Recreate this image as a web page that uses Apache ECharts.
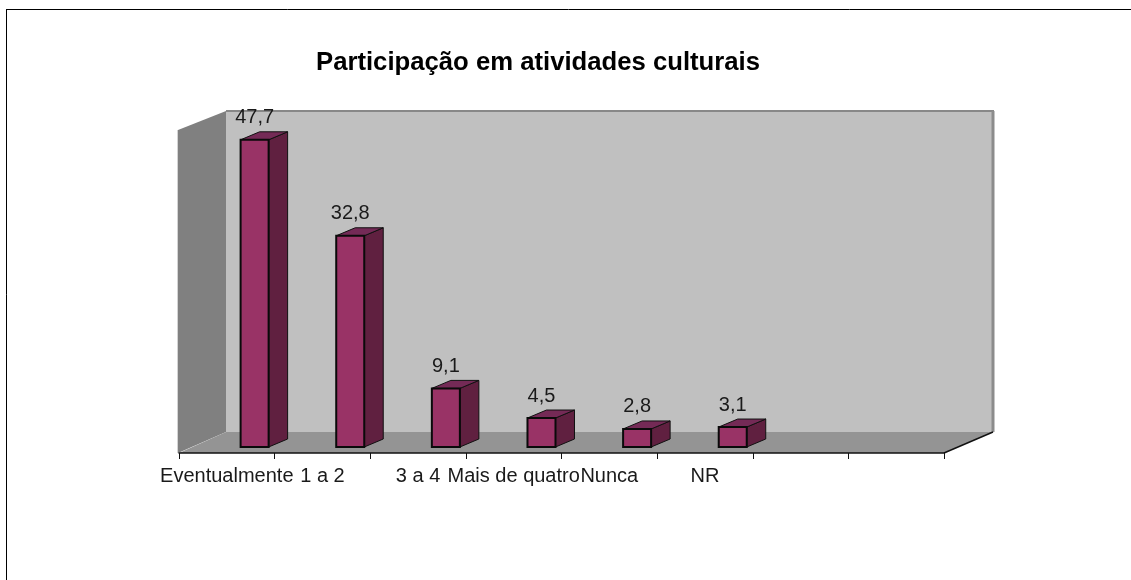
<!DOCTYPE html>
<html>
<head>
<meta charset="utf-8">
<title>Participação em atividades culturais</title>
<style>
    html, body { margin: 0; padding: 0; background: #fff; overflow: hidden; }
    #chart { width: 1131px; height: 580px; }
</style>
<script src="https://cdn.jsdelivr.net/npm/echarts@6/dist/echarts.min.js"></script>
</head>
<body>
<div id="chart"></div>
<script>
var titleText = 'Participação em atividades culturais';
var categories = ['Eventualmente', '1 a 2', '3 a 4', 'Mais de quatro', 'Nunca', 'NR', '', ''];
var values = [47.7, 32.8, 9.1, 4.5, 2.8, 3.1];

var fontName = '"Liberation Sans", Arial, sans-serif';
// depth of the fake 3d box, in pixels
var wallDx = 47, wallDy = 21;
var barDx = 19, barDy = 8;
var barShiftX = 27.8, barShiftY = 6;

function poly(points, fill, stroke, width) {
    return {
        type: 'polygon',
        shape: { points: points },
        style: { fill: fill, stroke: stroke, lineWidth: width, lineJoin: 'miter' }
    };
}

function renderWalls(params) {
    var g = params.coordSys;
    var l = g.x, r = g.x + g.width, t = g.y, b = g.y + g.height;
    return {
        type: 'group',
        children: [
            // back wall
            poly([[l + wallDx, t - wallDy + 1], [r + wallDx + 2, t - wallDy + 1], [r + wallDx + 2, b - wallDy], [l + wallDx, b - wallDy]], '#c0c0c0', null, 0),
            { type: 'line', shape: { x1: l + wallDx, y1: t - wallDy + 1, x2: r + wallDx + 3, y2: t - wallDy + 1 }, style: { stroke: '#888888', lineWidth: 2 } },
            { type: 'line', shape: { x1: r + wallDx + 2, y1: t - wallDy + 1, x2: r + wallDx + 2, y2: b - wallDy }, style: { stroke: '#8c8c8c', lineWidth: 3 } },
            // left wall
            poly([[l - 1, t - 1], [l + wallDx, t - wallDy + 1], [l + wallDx, b - wallDy], [l - 1, b]], '#808080', null, 0),
            { type: 'line', shape: { x1: l - 1.5, y1: t - 1, x2: l - 1.5, y2: b }, style: { stroke: '#d4d4d4', lineWidth: 1 } },
            // floor
            poly([[l, b], [l + wallDx, b - wallDy], [r + wallDx + 2, b - wallDy], [r, b]], '#949494', null, 0),
            { type: 'line', shape: { x1: r, y1: b, x2: r + wallDx + 2, y2: b - wallDy }, style: { stroke: '#111111', lineWidth: 1.5 } }
        ]
    };
}

function renderBar(params, api) {
    var top = api.coord([api.value(0), api.value(1)]);
    var base = api.coord([api.value(0), 0]);
    var w = api.size([1, 0])[0] * 0.293;
    var x0 = top[0] + barShiftX - w / 2;
    var x1 = x0 + w;
    var y0 = top[1] - barShiftY;
    var y1 = base[1] - barShiftY;
    return {
        type: 'group',
        children: [
            poly([[x1, y0], [x1 + barDx, y0 - barDy], [x1 + barDx, y1 - barDy], [x1, y1]], '#602040', '#111111', 1),
            poly([[x0, y0], [x0 + barDx, y0 - barDy], [x1 + barDx, y0 - barDy], [x1, y0]], '#742a56', '#111111', 1),
            poly([[x0, y0], [x1, y0], [x1, y1], [x0, y1]], '#993366', '#0a0a0a', 2),
            {
                type: 'text',
                style: {
                    x: x0 + w / 2,
                    y: y0 - barDy - 4,
                    text: String(api.value(1)).replace('.', ','),
                    align: 'center',
                    verticalAlign: 'bottom',
                    fill: '#1a1a1a',
                    font: '20px ' + fontName
                }
            }
        ]
    };
}

var option = {
    animation: false,
    backgroundColor: '#ffffff',
    title: {
        text: titleText,
        left: 533,
        top: 45,
        textAlign: 'center',
        textStyle: { fontFamily: fontName, fontSize: 25.7, fontWeight: 'bold', color: '#000000' }
    },
    grid: { left: 179, top: 131, width: 765, height: 322 },
    xAxis: {
        type: 'category',
        data: categories,
        z: 5,
        axisLine: { show: true, lineStyle: { color: '#111111', width: 1.5 } },
        axisTick: { show: true, alignWithLabel: false, length: 6, lineStyle: { color: '#111111', width: 1 } },
        axisLabel: {
            interval: 0,
            hideOverlap: false,
            margin: 13,
            color: '#1a1a1a',
            fontFamily: fontName,
            fontSize: 20
        }
    },
    yAxis: { type: 'value', min: 0, max: 50, show: false },
    graphic: [
        // frame of the picture, only top and left are visible
        { type: 'line', shape: { x1: 6, y1: 9.5, x2: 1131, y2: 9.5 }, style: { stroke: '#000000', lineWidth: 1 } },
        { type: 'line', shape: { x1: 6.5, y1: 9.5, x2: 6.5, y2: 580 }, style: { stroke: '#000000', lineWidth: 1 } }
    ],
    series: [
        { type: 'custom', z: 1, silent: true, data: [0], renderItem: renderWalls },
        {
            type: 'custom',
            z: 3,
            silent: true,
            encode: { x: 0, y: 1 },
            data: values.map(function (v, i) { return [i, v]; }),
            renderItem: renderBar
        }
    ]
};

var myChart = echarts.init(document.getElementById('chart'), null, { renderer: 'canvas' });
myChart.setOption(option, true);
</script>
</body>
</html>
